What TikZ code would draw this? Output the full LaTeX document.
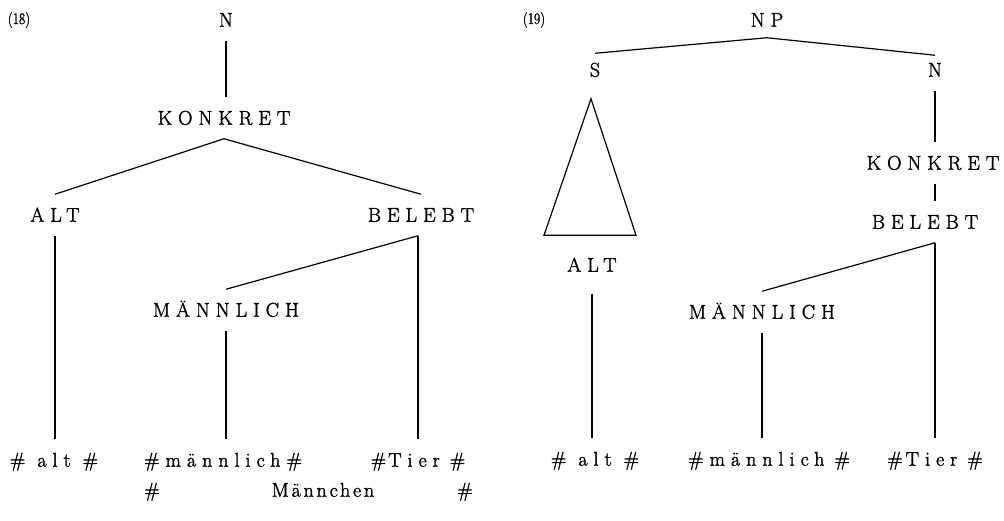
\documentclass[tikz,border=0pt]{standalone}
\usepackage{fontspec}
\newfontfamily\lsp[LetterSpace=30,FakeBold=1.6]{Latin Modern Roman}
\newfontfamily\lspm[LetterSpace=14,FakeBold=1.6]{Latin Modern Roman}
\newfontfamily\numfont[FakeBold=1.6,FakeStretch=0.85]{Latin Modern Roman}
\tikzset{
  lab/.style={font=\lsp\fontsize{20}{23}\selectfont, inner sep=0pt, text height=13.5pt, text depth=0pt, outer sep=14pt},
  word/.style={font=\lspm\fontsize{20}{23}\selectfont, inner sep=0pt, text height=13.5pt, text depth=0pt, outer sep=14pt},
  num/.style={font=\numfont\fontsize{16}{18}\selectfont, inner sep=0pt},
  edge/.style={line width=1.2pt}
}
\begin{document}
\begin{tikzpicture}[x=1pt,y=-1pt]
\useasboundingbox (0,0) rectangle (1004,520);
% left tree (18)
\node[num] (n18) at (19,20) {(18)};
\node[lab] (N1) at (226,20) {N};
\node[lab] (K1) at (224,118) {KONKRET};
\node[lab] (A1) at (55,215) {ALT};
\node[lab] (B1) at (421,215) {BELEBT};
\node[lab] (M1) at (226,310) {MÄNNLICH};
\node[lab] (L1a) at (54,460) {\#\kern12pt alt\kern12pt\#};
\node[lab] (L1b) at (223,460) {\#männlich\#};
\node[lab] (L1c) at (418,460) {\#\kern2pt Tier\kern10pt\#};
\node[lab] (W1) at (152,490) {\#};
\node[word] (W2) at (323,490) {Männchen};
\node[lab] (W3) at (465,490) {\#};
\draw[edge] (N1.south) -- (N1.south |- K1.north);
\draw[edge] (K1.south) -- (A1.north);
\draw[edge] (K1.south) -- (B1.north);
\draw[edge] (A1.south) -- (A1.south |- L1a.north);
\draw[edge] (B1.south -| L1c.north) -- (M1.north);
\draw[edge] (B1.south -| L1c.north) -- (L1c.north);
\draw[edge] (M1.south) -- (M1.south |- L1b.north);
% right tree (19)
\node[num] (n19) at (534,20) {(19)};
\node[lab] (NP) at (767,20) {NP};
\node[lab] (S2) at (595,70) {S};
\node[lab] (N2) at (935,70) {N};
\node[lab] (K2) at (933,163) {KONKRET};
\node[lab] (B2) at (925,222) {BELEBT};
\node[lab] (A2) at (592,265) {ALT};
\node[lab] (M2) at (762,312) {MÄNNLICH};
\node[lab] (L2a) at (595,459) {\#\kern12pt alt\kern12pt\#};
\node[lab] (L2b) at (769,459) {\#männlich\kern10pt\#};
\node[lab] (L2c) at (935,459) {\#\kern3pt Tier\kern10pt\#};
\draw[edge] ([yshift=3pt]NP.south) -- ([yshift=-4pt]S2.north);
\draw[edge] ([yshift=3pt]NP.south) -- ([yshift=-6pt]N2.north);
\draw[edge] ([xshift=-4pt,yshift=-8pt]S2.south) -- ([xshift=-48pt,yshift=9pt]A2.north) -- ([xshift=44pt,yshift=9pt]A2.north) -- cycle;
\draw[edge] (N2.south) -- (N2.south |- K2.north);
\draw[edge] (K2.south -| N2.south) -- (N2.south |- B2.north);
\draw[edge] (B2.south -| L2c.north) -- (M2.north);
\draw[edge] (B2.south -| L2c.north) -- (L2c.north);
\draw[edge] ([yshift=-8pt]A2.south) -- (A2.south |- L2a.north);
\draw[edge] (M2.south) -- (M2.south |- L2b.north);
\end{tikzpicture}
\end{document}
